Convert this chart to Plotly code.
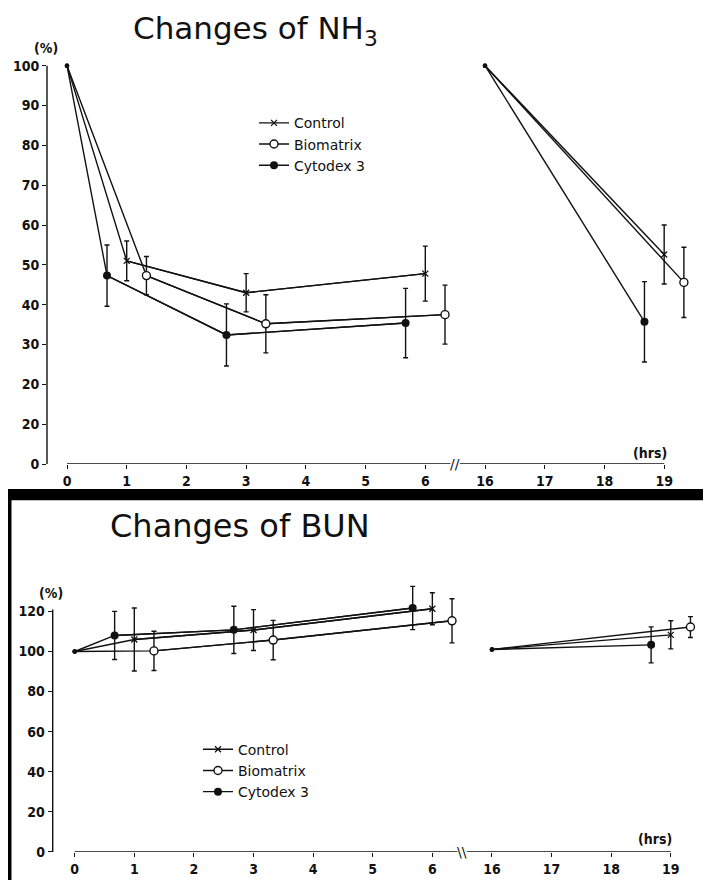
import plotly.graph_objects as go

W, H = 703, 890   # the photographed page is slightly taller than the 880-px reference
REF_H = 880       # layout positions below are given in reference pixels

# ---------------- data (hours, % of initial, SD) ----------------
# Changes of NH3
nh3_control_hrs = [0, 1.0, 3.0, 6.0, 16, 19.0]
nh3_control = [100, 51, 43, 47.8, 100, 52.6]
nh3_control_sd = [0, 5.0, 4.8, 6.9, 0, 7.4]

nh3_bio_hrs = [0, 1.33, 3.33, 6.33, 16, 19.33]
nh3_bio = [100, 47.3, 35.2, 37.5, 100, 45.6]
nh3_bio_sd = [0, 4.8, 7.3, 7.4, 0, 8.8]

nh3_cyto_hrs = [0, 0.67, 2.67, 5.67, 16, 18.67]
nh3_cyto = [100, 47.3, 32.4, 35.4, 100, 35.7]
nh3_cyto_sd = [0, 7.7, 7.8, 8.7, 0, 10.1]

# Changes of BUN
bun_control_hrs = [0, 1.0, 3.0, 6.0, 16, 19.0]
bun_control = [100, 106, 110.7, 121.3, 101, 108.3]
bun_control_sd = [0, 15.7, 10.2, 8.0, 0, 7.0]

bun_bio_hrs = [0, 1.33, 3.33, 6.33, 16, 19.33]
bun_bio = [100, 100.3, 105.7, 115.3, 101, 112.2]
bun_bio_sd = [0, 9.8, 9.8, 11.0, 0, 5.2]

bun_cyto_hrs = [0, 0.67, 2.67, 5.67, 16, 18.67]
bun_cyto = [100, 108, 110.8, 121.7, 101, 103.3]
bun_cyto_sd = [0, 12.0, 11.8, 10.8, 0, 9.0]

x_tick_hrs = [0, 1, 2, 3, 4, 5, 6, 16, 17, 18, 19]
x_tick_labels = ["0", "1", "2", "3", "4", "5", "6", "16", "17", "18", "19"]
nh3_y_ticks = [0, 10, 20, 30, 40, 50, 60, 70, 80, 90, 100]
nh3_y_labels = ["0", "20", "20", "30", "40", "50", "60", "70", "80", "90", "100"]
bun_y_ticks = [0, 20, 40, 60, 80, 100, 120]
bun_y_labels = ["0", "20", "40", "60", "80", "100", "120"]

# broken time axis: 16 h is drawn one unit after 6 h
GAP = 9


def brk(h):
    return h if h < 10 else h - GAP


def px(x):
    return x / W


def py(y):
    return 1 - y / REF_H


INK = "#111111"
TICKFONT = dict(family="DejaVu Sans Condensed, Liberation Sans Narrow, DejaVu Sans",
                size=14, color=INK, weight="bold")
TEXTFONT = dict(family="DejaVu Sans, Liberation Sans, Arial", color=INK)

styles = {
    "Control": dict(symbol="x-thin-open", size=6, color=INK, line=dict(color=INK, width=1.3)),
    "Biomatrix": dict(symbol="circle", size=8, color="white", line=dict(color=INK, width=1.4)),
    "Cytodex 3": dict(symbol="circle", size=8, color=INK, line=dict(color=INK, width=0)),
}

fig = go.Figure()


def add_panel(series, xa, ya, legend):
    start_x, start_y = [], []
    for name, hrs, vals, sd in series:
        # full polyline (segments separated at the time break)
        xs, ys = [], []
        for i, (h, v) in enumerate(zip(hrs, vals)):
            if i > 0 and hrs[i - 1] < 10 <= h:
                xs.append(None)
                ys.append(None)
            xs.append(brk(h))
            ys.append(v)
        fig.add_trace(go.Scatter(x=xs, y=ys, mode="lines", xaxis=xa, yaxis=ya,
                                 line=dict(color=INK, width=1.4), showlegend=False,
                                 hoverinfo="skip"))
        # measured points (not the 100 % starting points)
        mx, my, me = [], [], []
        prev = None
        for h, v, e in zip(hrs, vals, sd):
            if h in (0, 16):
                start_x.append(brk(h))
                start_y.append(v)
                continue
            if prev is not None and prev < 10 <= h:
                mx.append(None)
                my.append(None)
                me.append(None)
            mx.append(brk(h))
            my.append(v)
            me.append(e)
            prev = h
        fig.add_trace(go.Scatter(
            x=mx, y=my, mode="lines+markers", name=name, xaxis=xa, yaxis=ya,
            legend=legend, line=dict(color=INK, width=1.4),
            marker=styles[name], cliponaxis=False,
            error_y=dict(type="data", array=me, visible=True, color=INK,
                         thickness=1.4, width=2.5)))
    fig.add_trace(go.Scatter(x=start_x, y=start_y, mode="markers", xaxis=xa, yaxis=ya,
                             marker=dict(symbol="circle", size=4.5, color=INK),
                             showlegend=False, cliponaxis=False, hoverinfo="skip"))


add_panel([
    ("Control", nh3_control_hrs, nh3_control, nh3_control_sd),
    ("Biomatrix", nh3_bio_hrs, nh3_bio, nh3_bio_sd),
    ("Cytodex 3", nh3_cyto_hrs, nh3_cyto, nh3_cyto_sd),
], "x", "y", "legend")

add_panel([
    ("Control", bun_control_hrs, bun_control, bun_control_sd),
    ("Biomatrix", bun_bio_hrs, bun_bio, bun_bio_sd),
    ("Cytodex 3", bun_cyto_hrs, bun_cyto, bun_cyto_sd),
], "x2", "y2", "legend2")

tickvals_v = [brk(h) for h in x_tick_hrs]

xcommon = dict(showline=False, showgrid=False, zeroline=False, ticks="outside",
               ticklen=4, tickwidth=1.4, tickcolor=INK, tickfont=TICKFONT,
               tickvals=tickvals_v, ticktext=x_tick_labels, fixedrange=True)
ycommon = dict(showline=False, showgrid=False,
               zeroline=False, ticks="outside", ticklen=4, tickwidth=1.4,
               tickcolor=INK, tickfont=TICKFONT, fixedrange=True)

# pixel geometry of the two panels (reference pixels)
TOP_Y0, TOP_PPU = 463, 3.975      # y pixel of 0 %, pixels per %
BOT_Y0, BOT_PPU = 850, 2.0
TOP_YMAX, BOT_YMAX = 104, 140

fig.update_layout(
    width=W, height=H,
    margin=dict(l=0, r=0, t=0, b=0),
    paper_bgcolor="white", plot_bgcolor="rgba(0,0,0,0)",
    xaxis=dict(domain=[px(47), px(700)], range=[-0.335, 10.6], anchor="y", **xcommon),
    yaxis=dict(domain=[py(TOP_Y0), py(TOP_Y0 - TOP_YMAX * TOP_PPU)], range=[0, TOP_YMAX],
               anchor="x", tickvals=nh3_y_ticks, ticktext=nh3_y_labels, **ycommon),
    xaxis2=dict(domain=[px(52.7), px(700)], range=[-0.369, 10.49], anchor="y2", **xcommon),
    yaxis2=dict(domain=[py(BOT_Y0), py(BOT_Y0 - BOT_YMAX * BOT_PPU)], range=[0, BOT_YMAX],
                anchor="x2", tickvals=bun_y_ticks, ticktext=bun_y_labels, **ycommon),
    legend=dict(x=px(254), y=py(107), xanchor="left", yanchor="top",
                font=dict(size=14, **TEXTFONT), bgcolor="rgba(0,0,0,0)",
                tracegroupgap=0, itemclick=False),
    legend2=dict(x=px(198), y=py(732), xanchor="left", yanchor="top",
                 font=dict(size=14, **TEXTFONT), bgcolor="rgba(0,0,0,0)",
                 tracegroupgap=0, itemclick=False),
    showlegend=True,
)

shapes = []
# y axis lines (0 .. top tick) and detached x axis lines with a break
for xr, yr, ytop in (("x", "y", 100), ("x2", "y2", 121)):
    shapes.append(dict(type="line", xref=xr + " domain", yref=yr, x0=0, x1=0, y0=0, y1=ytop,
                       line=dict(color=INK, width=1.4)))
    shapes.append(dict(type="line", xref=xr, yref=yr, x0=0, x1=6.42, y0=0, y1=0,
                       line=dict(color=INK, width=1.4)))
    shapes.append(dict(type="line", xref=xr, yref=yr, x0=6.58, x1=brk(19), y0=0, y1=0,
                       line=dict(color=INK, width=1.4)))
# black separator bar and left border of the lower panel
shapes.append(dict(type="rect", xref="paper", yref="paper", x0=px(8), x1=1,
                   y0=py(499), y1=py(488), fillcolor="black", line=dict(width=0)))
shapes.append(dict(type="rect", xref="paper", yref="paper", x0=px(8), x1=px(11.5),
                   y0=0, y1=py(488), fillcolor="black", line=dict(width=0)))
fig.update_layout(shapes=shapes)

ann = []
ann.append(dict(text="Changes of NH<sub>3</sub>", x=px(255), y=py(30), xref="paper",
                yref="paper", xanchor="center", yanchor="middle", showarrow=False,
                font=dict(size=31, **TEXTFONT)))
ann.append(dict(text="Changes of BUN", x=px(240), y=py(525), xref="paper",
                yref="paper", xanchor="center", yanchor="middle", showarrow=False,
                font=dict(size=32, **TEXTFONT)))
for x, y, t in ((46, 48, "(%)"), (51, 592, "(%)"), (650, 452, "(hrs)"), (655, 837, "(hrs)")):
    ann.append(dict(text=t, x=px(x), y=py(y), xref="paper", yref="paper",
                    xanchor="center", yanchor="middle", showarrow=False, font=TICKFONT))
ann.append(dict(text="//", x=6.5, y=0, xref="x", yref="y", xanchor="center",
                yanchor="middle", showarrow=False, font=dict(size=14, **TEXTFONT)))
ann.append(dict(text="\\\\", x=6.5, y=0, xref="x2", yref="y2", xanchor="center",
                yanchor="middle", showarrow=False, font=dict(size=14, **TEXTFONT)))
fig.update_layout(annotations=ann)

fig.write_html("out.html",
               config={"displayModeBar": False},
               post_script="document.body.style.margin='0';"
                           "document.documentElement.style.overflow='hidden';"
                           "document.body.style.overflow='hidden';")
